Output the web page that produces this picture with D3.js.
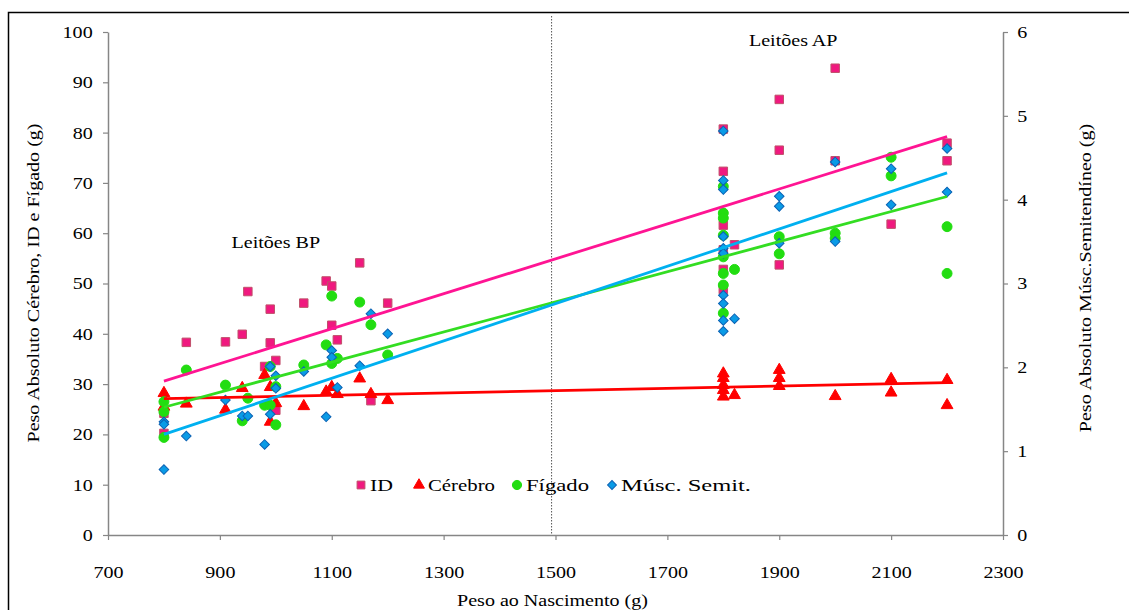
<!DOCTYPE html>
<html><head><meta charset="utf-8">
<script src="https://cdn.jsdelivr.net/npm/d3@7"></script>
<style>
body{margin:0;background:#fff;}
text{font-family:"Liberation Serif","Times New Roman",serif;fill:#000;}
</style></head>
<body><svg id="c" width="1129" height="610"></svg>
<script>
// ---- data (x = Peso ao Nascimento g, y = weight g) ----
const xTicks = [700,900,1100,1300,1500,1700,1900,2100,2300];
const yTicks = [0,10,20,30,40,50,60,70,80,90,100];
const y2Ticks = [0,1,2,3,4,5,6];
const seriesNames = ["ID","Cérebro","Fígado","Músc. Semit."];
const idData = [[800,24.2],[800,20.2],[840,38.3],[910,38.4],[940,39.9],[950,48.4],[980,33.5],[990,38.2],[990,44.9],[1000,34.7],[1000,24.8],[1050,46.1],[1090,50.5],[1100,49.5],[1100,41.7],[1110,38.8],[1150,54.1],[1170,26.7],[1200,46.1],
 [1800,80.7],[1800,72.3],[1800,61.6],[1800,56.7],[1800,52.8],[1800,48.8],[1820,57.7],[1900,86.6],[1900,76.5],[1900,53.7],[2000,92.8],[2000,74.4],[2100,61.8],[2200,77.9],[2200,74.4]];
const cerebroData = [[800,28.2],[800,25.5],[840,26.1],[910,24.9],[940,29.2],[980,31.8],[990,29.4],[990,22.5],[1000,26.2],[1050,25.6],[1090,28.5],[1100,29.4],[1110,28.0],[1150,31.1],[1170,28.0],[1200,26.8],
 [1800,32.1],[1800,31.2],[1800,29.8],[1800,28.8],[1800,27.5],[1820,27.8],[1900,32.8],[1900,31.2],[1900,29.6],[2000,27.6],[2100,31.0],[2100,28.3],[2200,30.8],[2200,25.8]];
const figadoData = [[800,26.5],[800,24.5],[800,19.4],[840,32.8],[910,29.8],[940,22.7],[950,27.2],[980,25.8],[990,33.5],[990,25.8],[1000,29.5],[1000,21.9],[1050,33.8],[1090,37.8],[1100,47.5],[1100,34.1],[1110,35.1],[1150,46.3],[1170,41.8],[1200,35.8],
 [1800,69.3],[1800,64.0],[1800,63.0],[1800,59.6],[1800,55.3],[1800,52.0],[1800,49.7],[1800,44.1],[1820,52.8],[1900,59.3],[1900,55.9],[2000,60.0],[2000,59.0],[2100,75.1],[2100,71.4],[2200,61.3],[2200,52.0]];
const muscData = [[800,1.35],[800,1.32],[800,0.78],[840,1.18],[910,1.61],[940,1.42],[950,1.42],[980,1.08],[990,2.01],[990,1.44],[1000,1.90],[1000,1.75],[1050,1.95],[1090,1.41],[1100,2.20],[1100,2.12],[1110,1.76],[1150,2.02],[1170,2.64],[1200,2.40],
 [1800,4.82],[1800,4.23],[1800,4.12],[1800,3.56],[1800,3.42],[1800,3.36],[1800,2.86],[1800,2.76],[1800,2.56],[1800,2.43],[1820,2.58],[1900,4.04],[1900,3.92],[1900,3.48],[2000,4.45],[2000,3.50],[2100,4.37],[2100,3.94],[2200,4.61],[2200,4.09]];
// linear trend lines (endpoints)
const idTrend = [[800,30.6],[2200,79.2]];
const cerebroTrend = [[800,27.1],[2200,30.3]];
const figadoTrend = [[800,25.4],[2200,67.3]];
const muscTrend = [[800,1.20],[2200,4.32]];
const divider = 1493;
const groupLabels = [["Leitões BP",1000,57.0],["Leitões AP",1925,97.3]];

// ---- layout ----
const svg = d3.select("#c");
const L=108, R=1003, T=32, B=535;
const x = d3.scaleLinear().domain([700,2300]).range([L,R]);
const y = d3.scaleLinear().domain([0,100]).range([B,T]);
const y2 = d3.scaleLinear().domain([0,6]).range([B,T]);
const axisCol = "#868686";
const FS = 17, SX = 1.18;

svg.append("rect").attr("x",8.5).attr("y",12.5).attr("width",1140).attr("height",620)
  .attr("fill","none").attr("stroke","#000").attr("stroke-width",1.5);

function styleAxis(g){
  g.select(".domain").attr("stroke",axisCol).attr("stroke-width",1.5);
  g.selectAll(".tick line").attr("stroke",axisCol).attr("stroke-width",1.2);
  g.selectAll(".tick text").attr("font-size",FS).attr("fill","#000")
    .attr("transform",`scale(${SX},1)`);
}
const gx = svg.append("g").attr("transform",`translate(0,${B})`)
  .call(d3.axisBottom(x).tickValues(xTicks).tickFormat(d3.format("d")).tickSize(5).tickSizeOuter(0).tickPadding(26));
styleAxis(gx);
const gy = svg.append("g").attr("transform",`translate(${L},0)`)
  .call(d3.axisLeft(y).tickValues(yTicks).tickFormat(d3.format("d")).tickSize(5).tickSizeOuter(0).tickPadding(8));
styleAxis(gy);
const gy2 = svg.append("g").attr("transform",`translate(${R},0)`)
  .call(d3.axisRight(y2).tickValues(y2Ticks).tickFormat(d3.format("d")).tickSize(5).tickSizeOuter(0).tickPadding(7));
styleAxis(gy2);

function label(tx,ty,rot,str){
  svg.append("text").attr("transform",`translate(${tx},${ty}) rotate(${rot}) scale(${SX},1)`)
    .attr("text-anchor","middle").attr("font-size",FS).text(str);
}
// titles
label(x(1500)-3,606,0,"Peso ao Nascimento (g)");
label(39,283,-90,"Peso Absoluto Cérebro, ID e Fígado (g)");
label(1091,278,-90,"Peso Absoluto Músc.Semitendíneo (g)");

// divider
svg.append("line").attr("x1",x(divider)).attr("x2",x(divider)).attr("y1",16).attr("y2",B)
  .attr("stroke","#555").attr("stroke-width",1).attr("stroke-dasharray","1.5,1.5");

// group labels
groupLabels.forEach(d=>label(x(d[1]), y(d[2]), 0, d[0]));

// markers
const cfg = [
 {data:idData, sc:y, sym:d3.symbolSquare, size:72, rot:0, fill:"#F0197F", stroke:"#C0506A"},
 {data:cerebroData, sc:y, sym:d3.symbolTriangle, size:60, rot:0, fill:"#FF0000", stroke:"#FF0000"},
 {data:figadoData, sc:y, sym:d3.symbolCircle, size:78, rot:0, fill:"#22DD11", stroke:"#22DD11"},
 {data:muscData, sc:y2, sym:d3.symbolSquare, size:46, rot:45, fill:"#0A9BE6", stroke:"#0B62B4"}
];
cfg.forEach(c=>{
  svg.append("g").selectAll("path").data(c.data).join("path")
    .attr("d",d3.symbol().type(c.sym).size(c.size))
    .attr("transform",d=>`translate(${x(d[0])},${c.sc(d[1])}) rotate(${c.rot})`)
    .attr("fill",c.fill).attr("stroke",c.stroke).attr("stroke-width",1);
});

// trend lines
const trends = [
 {data:idTrend, sc:y, col:"#FF1493"},
 {data:cerebroTrend, sc:y, col:"#FF0000"},
 {data:figadoTrend, sc:y, col:"#33DD22"},
 {data:muscTrend, sc:y2, col:"#00B0F0"}
];
trends.forEach(t=>{
  svg.append("path").attr("d",d3.line().x(d=>x(d[0])).y(d=>t.sc(d[1]))(t.data))
    .attr("stroke",t.col).attr("stroke-width",2.8).attr("fill","none");
});

// legend
const legX = [361,419,517,612];
const legW = [23,67,63,130];
const legY = 485;
cfg.forEach((c,i)=>{
  svg.append("path").attr("d",d3.symbol().type(c.sym).size(c.size*0.85)())
    .attr("transform",`translate(${legX[i]},${legY}) rotate(${c.rot})`).attr("fill",c.fill).attr("stroke",c.stroke);
  svg.append("text").attr("x",legX[i]+9).attr("y",legY+6)
    .attr("font-size",FS).attr("textLength",legW[i]).attr("lengthAdjust","spacingAndGlyphs").text(seriesNames[i]);
});
</script></body></html>
